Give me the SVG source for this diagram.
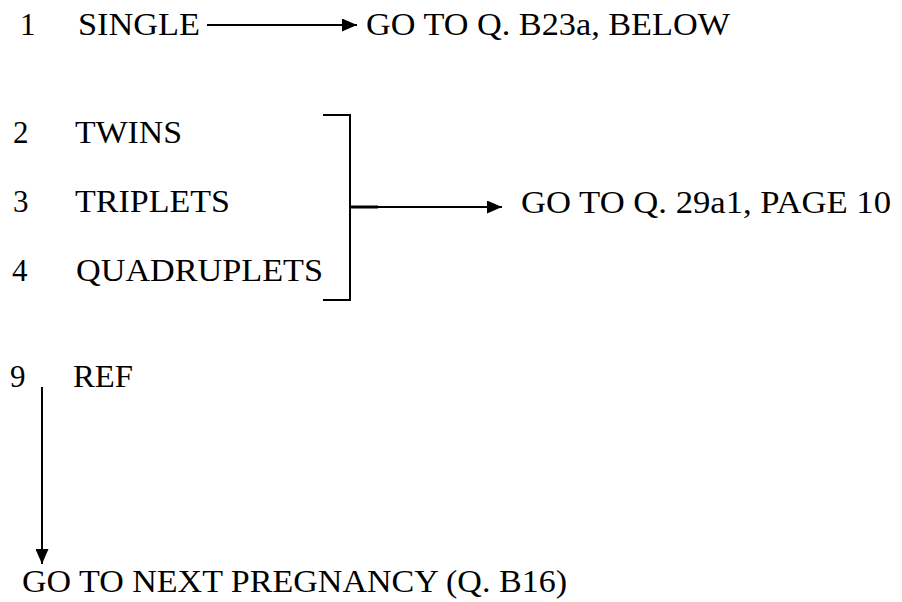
<svg xmlns="http://www.w3.org/2000/svg" width="902" height="602" viewBox="0 0 902 602">
<style>
text{font-family:'Liberation Serif','Times New Roman','DejaVu Serif',serif;font-size:31px;fill:#000}
.ln{stroke:#000;stroke-width:2;fill:none}
</style>
<defs>
<marker id="ah" viewBox="0 0 15 13" refX="15" refY="6.5" markerWidth="15" markerHeight="13" markerUnits="userSpaceOnUse" orient="auto">
<path d="M0,0 L15,6.5 L0,13 Z" fill="#000"/>
</marker>
</defs>
<rect width="902" height="602" fill="#fff"/>
<g id="opt1"><text x="20" y="35">1</text><text x="78" y="35" textLength="122" lengthAdjust="spacingAndGlyphs">SINGLE</text></g>
<g id="goto-b23a"><text x="366" y="35" textLength="364" lengthAdjust="spacingAndGlyphs">GO TO Q. B23a, BELOW</text></g>
<g id="opt2"><text x="13" y="143">2</text><text x="75" y="143" textLength="107" lengthAdjust="spacingAndGlyphs">TWINS</text></g>
<g id="opt3"><text x="13" y="212">3</text><text x="75" y="212" textLength="155" lengthAdjust="spacingAndGlyphs">TRIPLETS</text></g>
<g id="opt4"><text x="12" y="281">4</text><text x="76" y="281" textLength="247" lengthAdjust="spacingAndGlyphs">QUADRUPLETS</text></g>
<g id="goto-29a1"><text x="521" y="213" textLength="370" lengthAdjust="spacingAndGlyphs">GO TO Q. 29a1, PAGE 10</text></g>
<g id="opt9"><text x="10" y="387">9</text><text x="73" y="387" textLength="60" lengthAdjust="spacingAndGlyphs">REF</text></g>
<g id="goto-b16"><text x="22" y="592" textLength="545" lengthAdjust="spacingAndGlyphs">GO TO NEXT PREGNANCY (Q. B16)</text></g>
<g id="connectors">
<line class="ln" x1="207" y1="25" x2="357" y2="25" marker-end="url(#ah)"/>
<polyline class="ln" points="323,115 350,115 350,300 323,300"/>
<line class="ln" x1="350" y1="207" x2="378" y2="207" style="stroke-width:3"/>
<line class="ln" x1="378" y1="207" x2="502" y2="207" marker-end="url(#ah)"/>
<line class="ln" x1="42" y1="387" x2="42" y2="564" marker-end="url(#ah)"/>
</g>
</svg>
